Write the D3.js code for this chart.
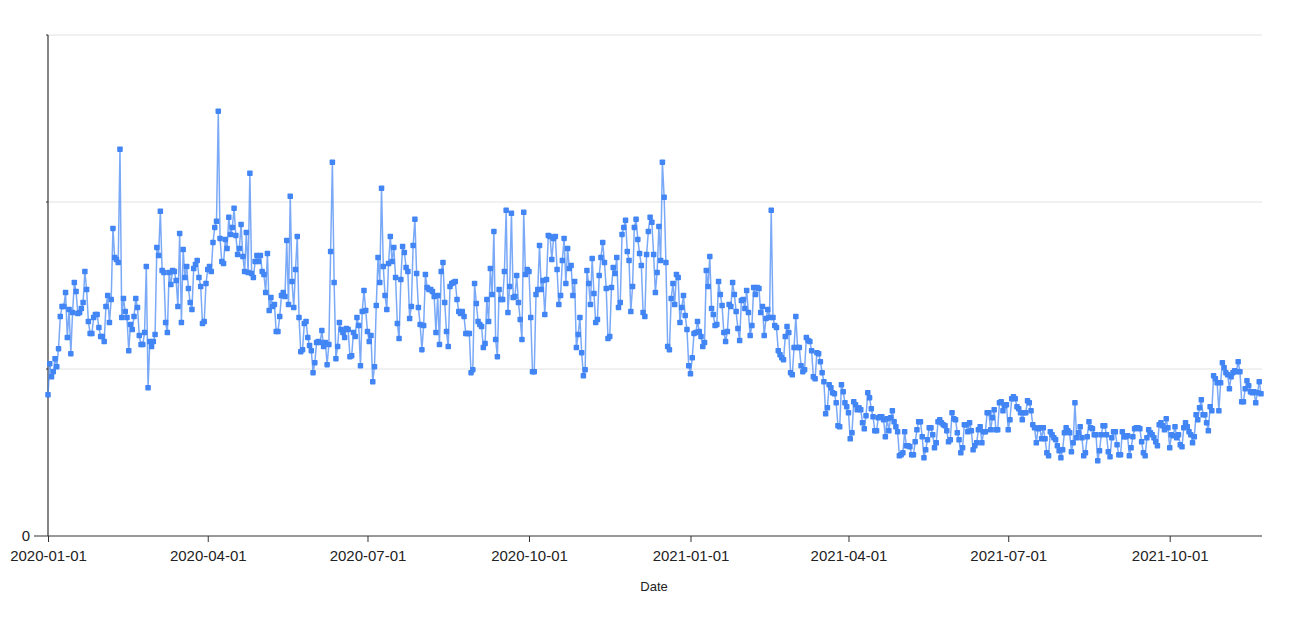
<!DOCTYPE html>
<html><head><meta charset="utf-8">
<script src="https://cdn.jsdelivr.net/npm/d3@7"></script>
<style>body{margin:0;background:#fff;} svg text{font-family:"Liberation Sans",Arial,sans-serif;}</style>
</head><body><svg id="chart" width="1298" height="619"></svg>
<script>
const startDate = "2020-01-01";
const values = [
423,516,477,492,531,507,561,657,687,687,729,594,678,546,669,759,732,666,669,681,699,792,738,642,606,606,654,663,663,624,597,597,582,687,720,639,708,921,834,828,819,1158,654,711,672,654,555,633,618,657,711,684,600,573,573,609,807,444,582,567,582,603,864,840,972,795,789,639,609,789,753,
795,792,765,687,906,639,858,774,807,741,699,678,801,813,825,774,747,636,642,756,798,807,792,879,924,942,1272,891,822,816,888,861,954,903,924,981,900,843,861,933,837,792,909,789,1086,786,774,822,840,822,840,792,783,729,846,675,714,687,693,612,612,657,720,729,717,885,693,1017,762,684,798,897,
654,552,558,636,642,594,570,555,489,519,579,582,579,615,567,579,513,573,852,1119,759,531,567,639,618,609,594,621,618,537,540,609,597,654,630,510,672,735,675,612,582,600,462,507,690,834,759,1041,807,720,678,816,897,822,864,774,636,591,768,867,849,804,792,651,687,870,948,786,684,633,
558,630,783,744,738,738,732,717,609,720,573,792,819,699,612,567,747,756,759,762,708,672,666,672,657,606,606,606,489,498,756,696,642,633,627,564,576,708,642,801,723,912,588,537,738,708,708,792,975,669,747,966,714,717,780,699,648,588,969,783,798,792,654,492,492,723,738,870,738,765,663,
768,900,897,828,891,897,798,693,720,825,891,756,861,801,810,720,762,564,603,654,549,480,498,795,756,693,831,726,639,648,780,834,879,819,741,591,597,744,804,786,834,684,699,903,924,945,852,825,672,747,924,948,888,846,810,669,657,843,912,954,939,843,729,789,927,825,1119,1014,819,567,558,711,
756,693,783,774,639,684,720,660,618,510,486,534,606,609,642,612,597,567,579,795,747,837,681,663,630,633,762,723,690,609,582,612,693,687,759,723,672,621,585,705,708,681,735,669,600,630,744,723,744,741,669,687,600,651,678,654,975,654,630,624,555,543,534,528,597,627,609,489,483,564,657,
564,564,510,492,498,594,585,582,555,477,471,549,546,522,489,462,366,384,453,444,429,426,399,330,327,453,432,399,387,369,291,309,402,393,378,384,378,339,321,360,429,414,381,357,315,315,354,357,357,348,297,351,315,354,375,342,327,312,240,243,249,312,270,270,267,243,243,282,318,342,
342,297,234,258,288,324,324,303,264,279,342,348,339,333,330,315,282,288,369,351,348,309,288,249,264,333,333,312,339,315,258,270,279,318,327,279,312,312,369,369,318,354,378,318,318,399,402,375,390,393,318,348,411,417,411,387,381,369,348,369,369,405,399,375,333,324,279,321,324,291,
324,291,249,240,312,303,294,288,270,255,234,258,309,324,315,309,252,279,399,294,309,327,294,240,249,297,342,324,321,303,303,225,255,303,330,330,303,252,237,294,312,312,273,243,243,312,297,297,300,240,264,297,321,324,324,321,282,249,240,294,318,309,303,294,282,270,333,339,330,318,351,324,264,
303,300,327,294,303,273,267,324,339,327,312,303,279,297,363,348,384,408,363,363,339,315,387,375,480,471,459,375,459,519,504,489,483,441,477,489,495,492,522,492,402,402,441,465,450,432,429,432,399,429,462,426
];
const xTickLabels = ["2020-01-01","2020-04-01","2020-07-01","2020-10-01","2021-01-01","2021-04-01","2021-07-01","2021-10-01"];
const yGridValues = [500, 1000, 1500];
const yTickValues = [0];
const xAxisTitle = "Date";

const parse = d3.timeParse("%Y-%m-%d");
const fmt = d3.timeFormat("%Y-%m-%d");
const t0 = parse(startDate);
const data = values.map((v, i) => ({date: d3.timeDay.offset(t0, i), value: v}));

const svg = d3.select("#chart");
const x = d3.scaleTime().domain([t0, data[data.length - 1].date]).range([48, 1261]);
const y = d3.scaleLinear().domain([0, 1500]).range([536, 35]);

// gridlines
svg.append("g").selectAll("line").data(yGridValues).join("line")
  .attr("x1", 48).attr("x2", 1262)
  .attr("y1", d => y(d)).attr("y2", d => y(d))
  .attr("stroke", "#e2e2e2").attr("stroke-width", 1);

// x axis
const xAxis = svg.append("g").attr("transform", `translate(0,${y(0)})`)
  .call(d3.axisBottom(x).tickValues(xTickLabels.map(parse)).tickFormat(fmt).tickSize(6).tickPadding(8));
xAxis.select(".domain").remove();
xAxis.selectAll(".tick line").attr("stroke", "#333");
xAxis.selectAll(".tick text").attr("fill", "#222").style("font-size", "15px");
svg.append("line").attr("x1", 34).attr("x2", 1262).attr("y1", y(0)).attr("y2", y(0))
  .attr("stroke", "#333").attr("stroke-width", 1.2);

// y axis
const yAxis = svg.append("g").attr("transform", "translate(48,0)")
  .call(d3.axisLeft(y).tickValues(yTickValues).tickFormat(d3.format("d")).tickSize(0).tickPadding(18));
yAxis.select(".domain").remove();
yAxis.selectAll(".tick text").attr("fill", "#222").style("font-size", "15px");
svg.append("g").selectAll("line").data(yGridValues).join("line")
  .attr("x1", 46).attr("x2", 48).attr("y1", d => y(d)).attr("y2", d => y(d)).attr("stroke", "#333");
svg.append("line").attr("x1", 48).attr("x2", 48).attr("y1", y(1500)).attr("y2", y(0))
  .attr("stroke", "#333").attr("stroke-width", 1.2);

// line + markers
const line = d3.line().x(d => x(d.date)).y(d => y(d.value));
svg.append("path").datum(data).attr("d", line)
  .attr("fill", "none").attr("stroke", "#4285f4").attr("stroke-opacity", 0.7).attr("stroke-width", 1.5);
svg.append("g").selectAll("rect").data(data).join("rect")
  .attr("x", d => x(d.date) - 2.75).attr("y", d => y(d.value) - 2.75)
  .attr("width", 5.5).attr("height", 5.5).attr("rx", 0.8)
  .attr("fill", "#4285f4");

// axis title
svg.append("text").attr("x", 654).attr("y", 591).attr("text-anchor", "middle")
  .attr("fill", "#222").style("font-size", "13px").text(xAxisTitle);
</script></body></html>
